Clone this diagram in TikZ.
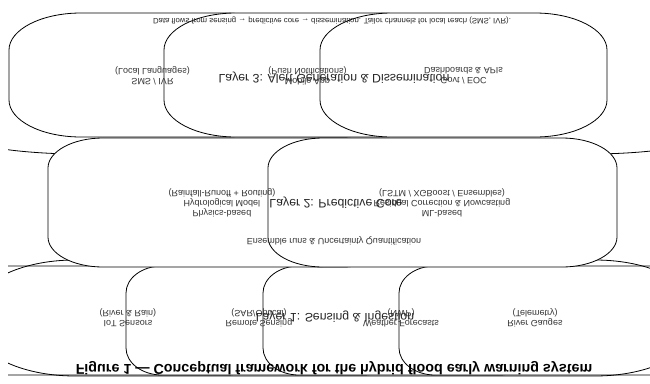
\documentclass[tikz,border=0pt]{standalone}
\usepackage{fontspec}
\setmainfont{Liberation Sans}
\newcommand\eboxdraw[7]{%
  \pgfmathsetmacro\eka{0.448*#6}%
  \pgfmathsetmacro\ekb{0.448*#7}%
  \path[#1] ({#2+#6},#3) -- ({#4-#6},#3)
    .. controls ({#4-\eka},#3) and (#4,{#3+\ekb}) .. (#4,{#3+#7})
    -- (#4,{#5-#7})
    .. controls (#4,{#5-\ekb}) and ({#4-\eka},#5) .. ({#4-#6},#5)
    -- ({#2+#6},#5)
    .. controls ({#2+\eka},#5) and (#2,{#5-\ekb}) .. (#2,{#5-#7})
    -- (#2,{#3+#7})
    .. controls (#2,{#3+\ekb}) and ({#2+\eka},#3) .. cycle;}
\tikzset{
  boxline/.style={draw=black, line width=0.8pt, fill=white},
  contline/.style={draw=black, line width=0.8pt},
  lab/.style={font=\fontsize{9}{10}\selectfont, align=center, inner sep=0pt, text=black!80},
  ttl/.style={font=\fontsize{12.3}{14}\selectfont, inner sep=0pt, text=black!85},
  notetext/.style={font=\fontsize{7.8}{9}\selectfont, inner sep=0pt, text=black!85},
  captext/.style={font=\fontsize{14.3}{16}\selectfont\bfseries, inner sep=0pt, text=black}
}
\begin{document}
\begin{tikzpicture}[x=1pt,y=1pt,yscale=-1,every node/.append style={transform shape}]
\useasboundingbox (0,0) rectangle (650,383);
\begin{scope}
\clip (8,0) rectangle (650,383);
% Layer 3 boxes
\eboxdraw{boxline}{9}{13}{296}{137}{72}{37}
\eboxdraw{boxline}{164}{13}{451}{137}{72}{37}
\eboxdraw{boxline}{320}{13}{607}{137}{72}{37}
% Layer 1 boxes
\eboxdraw{boxline}{-60}{266}{263}{375}{36}{27}
\eboxdraw{boxline}{126}{266}{399}{375}{36}{27}
\eboxdraw{boxline}{263}{266}{535}{375}{36}{27}
\eboxdraw{boxline}{399}{266}{720}{375}{36}{27}
% layer containers
\eboxdraw{contline}{-60}{-30}{730}{154}{140}{30}
\eboxdraw{contline}{-25}{260}{695}{376}{100}{50}
% Layer 2 boxes
\eboxdraw{boxline}{48}{138}{397}{267}{55}{30}
\eboxdraw{boxline}{268}{138}{617}{267}{55}{30}
\end{scope}
% texts
\node[notetext] (nt) at (332,21) {Data flows from sensing → predictive core → dissemination. Tailor channels for local reach (SMS, IVR).};
\node[lab] (sms) at (152.5,76) {SMS / IVR\\(Local Languages)};
\node[lab] (app) at (307.5,76) {Mobile App\\(Push Notifications)};
\node[lab] (eoc) at (463.5,76) {Govt / EOC\\Dashboards \& APIs};
\node[ttl] (l3) at (334,78) {Layer 3: Alert Generation \& Dissemination};
\node[lab] (phys) at (222,203) {Physics-based\\Hydrological Model\\(Rainfall-Runoff + Routing)};
\node[lab] (ml) at (442,203) {ML-based\\Residual Correction \& Nowcasting\\(LSTM / XGBoost / Ensembles)};
\node[ttl] (l2) at (336,203) {Layer 2: Predictive Core};
\node[lab] (ens) at (334,241) {Ensemble runs \& Uncertainty Quantification};
\node[lab] (iot) at (128,318) {IoT Sensors\\(River \& Rain)};
\node[lab] (rs) at (259,318) {Remote Sensing\\(SAR/Optical)};
\node[lab] (wf) at (401,318) {Weather Forecasts\\(NWP)};
\node[lab] (rg) at (535,318) {River Gauges\\(Telemetry)};
\node[ttl] (l1) at (335,317) {Layer 1: Sensing \& Ingestion};
\node[captext] (capt) at (334,368) {Figure 1 — Conceptual framework for the hybrid flood early warning system};
\end{tikzpicture}
\end{document}
